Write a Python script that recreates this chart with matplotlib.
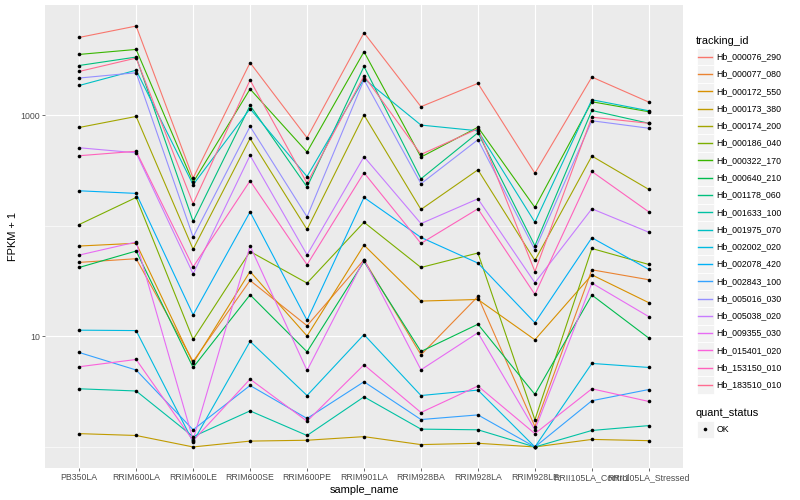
import numpy as np
import matplotlib
matplotlib.use("Agg")
import matplotlib.pyplot as plt
from matplotlib.lines import Line2D
from matplotlib.patches import Rectangle

plt.rcParams["font.family"] = ["Liberation Sans", "DejaVu Sans"]

# ── data: FPKM + 1 per gene and sample ──────────────────────────────────────
samples = ["PB350LA", "RRIM600LA", "RRIM600LE", "RRIM600SE", "RRIM600PE",
           "RRIM901LA", "RRIM928BA", "RRIM928LA", "RRIM928LE",
           "RRII105LA_Control", "RRII105LA_Stressed"]

hb_000076_290 = [5080, 6440, 271, 3000, 628, 5600, 1200, 1950, 300, 2225, 1320]
hb_000077_080 = [46.8, 50.5, 5.94, 32.1, 12.5, 49.4, 6.82, 23.0, 1.53, 40.1, 32.6]
hb_000172_550 = [65.8, 69.7, 5.74, 38.7, 10.1, 67.1, 20.9, 21.6, 9.33, 36.1, 20.2]
hb_000173_380 = [1.32, 1.27, 1.0, 1.13, 1.15, 1.24, 1.05, 1.08, 1.0, 1.17, 1.14]
hb_000174_200 = [778, 979, 61.5, 619, 92.9, 1009, 141, 322, 48.7, 429, 214]
hb_000186_040 = [103, 181, 9.40, 58.7, 30.4, 108, 42.1, 56.9, 1.76, 62.5, 44.8]
hb_000322_170 = [3565, 3955, 248, 1733, 467, 3770, 420, 782, 147, 1330, 1080]
hb_000640_210 = [42.1, 59.3, 5.24, 23.8, 7.26, 47.7, 7.31, 12.9, 2.99, 23.7, 9.66]
hb_001178_060 = [2830, 3375, 110, 1230, 225, 2773, 267, 697, 66.2, 1109, 849]
hb_001633_100 = [3.36, 3.21, 1.24, 2.12, 1.27, 2.84, 1.45, 1.43, 1.0, 1.41, 1.56]
hb_001975_070 = [1866, 2565, 236, 1150, 280, 2148, 818, 726, 108, 1387, 1102]
hb_002002_020 = [11.4, 11.3, 1.11, 9.02, 2.92, 10.4, 2.92, 3.27, 1.0, 5.70, 5.24]
hb_002078_420 = [208, 197, 15.7, 134, 14.0, 181, 78.7, 46.1, 13.3, 78.2, 40.4]
hb_002843_100 = [7.16, 4.97, 1.43, 3.60, 1.81, 3.89, 1.77, 1.95, 1.0, 2.62, 3.31]
hb_005016_030 = [2180, 2435, 79.3, 795, 121, 2104, 241, 603, 60.8, 895, 766]
hb_005038_020 = [510, 459, 36.9, 435, 54.8, 423, 105, 176, 30.6, 143, 87.7]
hb_009355_030 = [54.5, 71.5, 1.16, 65.8, 4.92, 49.4, 4.99, 10.8, 1.43, 30.4, 15.1]
hb_015401_020 = [5.32, 6.19, 1.14, 4.11, 1.71, 5.54, 2.05, 3.56, 1.32, 3.36, 2.58]
hb_153150_010 = [432, 474, 42.5, 256, 44.6, 303, 69.5, 143, 24.0, 311, 134]
hb_183510_010 = [2500, 3304, 159, 2089, 244, 2286, 444, 758, 38.7, 964, 849]

tracking_ids = ["Hb_000076_290", "Hb_000077_080", "Hb_000172_550", "Hb_000173_380",
                "Hb_000174_200", "Hb_000186_040", "Hb_000322_170", "Hb_000640_210",
                "Hb_001178_060", "Hb_001633_100", "Hb_001975_070", "Hb_002002_020",
                "Hb_002078_420", "Hb_002843_100", "Hb_005016_030", "Hb_005038_020",
                "Hb_009355_030", "Hb_015401_020", "Hb_153150_010", "Hb_183510_010"]
genes = [hb_000076_290, hb_000077_080, hb_000172_550, hb_000173_380, hb_000174_200,
         hb_000186_040, hb_000322_170, hb_000640_210, hb_001178_060, hb_001633_100,
         hb_001975_070, hb_002002_020, hb_002078_420, hb_002843_100, hb_005016_030,
         hb_005038_020, hb_009355_030, hb_015401_020, hb_153150_010, hb_183510_010]

# ggplot hue_pal()(20)
colors = ["#F8766D", "#EA8331", "#D89000", "#C09B00", "#A3A500", "#7CAE00",
          "#39B600", "#00BB4E", "#00BF7D", "#00C1A3", "#00BFC4", "#00BAE0",
          "#00B0F6", "#35A2FF", "#9590FF", "#C77CFF", "#E76BF3", "#FA62DB",
          "#FF62BC", "#FF6C91"]

# ── figure ───────────────────────────────────────────────────────────────────
W, H = 800, 500
fig = plt.figure(figsize=(W / 100, H / 100), dpi=100)
ax = fig.add_axes([45 / W, 1 - 468 / H, (683 - 45) / W, (468 - 5) / H])
ax.set_facecolor("#EBEBEB")
for s in ax.spines.values():
    s.set_visible(False)

x = np.arange(len(samples))
for vals, c in zip(genes, colors):
    ax.plot(x, vals, color=c, lw=0.8, zorder=3)
for vals in genes:
    ax.plot(x, vals, "o", color="black", ms=2.6, mew=0, zorder=4)

ax.set_yscale("log")
all_vals = np.concatenate([np.asarray(g, float) for g in genes])
lo, hi = np.log10(all_vals.min()), np.log10(all_vals.max())
pad = 0.05 * (hi - lo)
ax.set_ylim(10 ** (lo - pad), 10 ** (hi + pad))
ax.set_xlim(-0.6, len(samples) - 0.4)

ax.set_yticks([10, 1000])
ax.set_yticklabels(["10", "1000"])
ax.set_yticks([1, 100], minor=True)
ax.set_yticklabels([], minor=True)
ax.set_xticks(x)
ax.set_xticklabels(samples)

ax.grid(True, which="major", color="white", lw=0.85, zorder=1)
ax.grid(True, which="minor", axis="y", color="white", lw=0.45, zorder=1)
ax.set_axisbelow(True)
ax.tick_params(which="major", length=2, width=0.5, color="#333333",
               labelsize=6.3, labelcolor="#4D4D4D", pad=1.6)
ax.tick_params(which="minor", length=0)

ax.set_xlabel("sample_name", fontsize=7.9, labelpad=2)
ax.set_ylabel("FPKM + 1", fontsize=7.9, labelpad=1.5)

# ── legends (drawn by hand, ggplot style) ───────────────────────────────────
def fx(px):
    return px / W

def fy(py):
    return 1 - py / H

key = 17.28
kx0 = 696.5
fig.text(fx(696), fy(40.5), "tracking_id", fontsize=7.9, va="center", ha="left")
for i, (name, c) in enumerate(zip(tracking_ids, colors)):
    yc = 56.7 + i * key
    fig.add_artist(Rectangle((fx(kx0), fy(yc + key / 2)), key / W, key / H,
                             transform=fig.transFigure, facecolor="#F2F2F2",
                             edgecolor="white", lw=0.6, zorder=1))
    fig.add_artist(Line2D([fx(kx0 + 1.5), fx(kx0 + key - 1.5)], [fy(yc), fy(yc)],
                          transform=fig.transFigure, color=c, lw=1.0, zorder=2))
    fig.text(fx(716.5), fy(yc), name, fontsize=6.3, va="center", ha="left")

fig.text(fx(696), fy(412.7), "quant_status", fontsize=7.9, va="center", ha="left")
yc = 429.3
fig.add_artist(Rectangle((fx(kx0), fy(yc + key / 2)), key / W, key / H,
                         transform=fig.transFigure, facecolor="#F2F2F2",
                         edgecolor="white", lw=0.6, zorder=1))
fig.add_artist(Line2D([fx(kx0 + key / 2)], [fy(yc)], transform=fig.transFigure,
                      marker="o", color="black", ms=2.6, mew=0, lw=0, zorder=2))
fig.text(fx(716.5), fy(yc), "OK", fontsize=6.3, va="center", ha="left")

fig.savefig("out.png", dpi=100)
